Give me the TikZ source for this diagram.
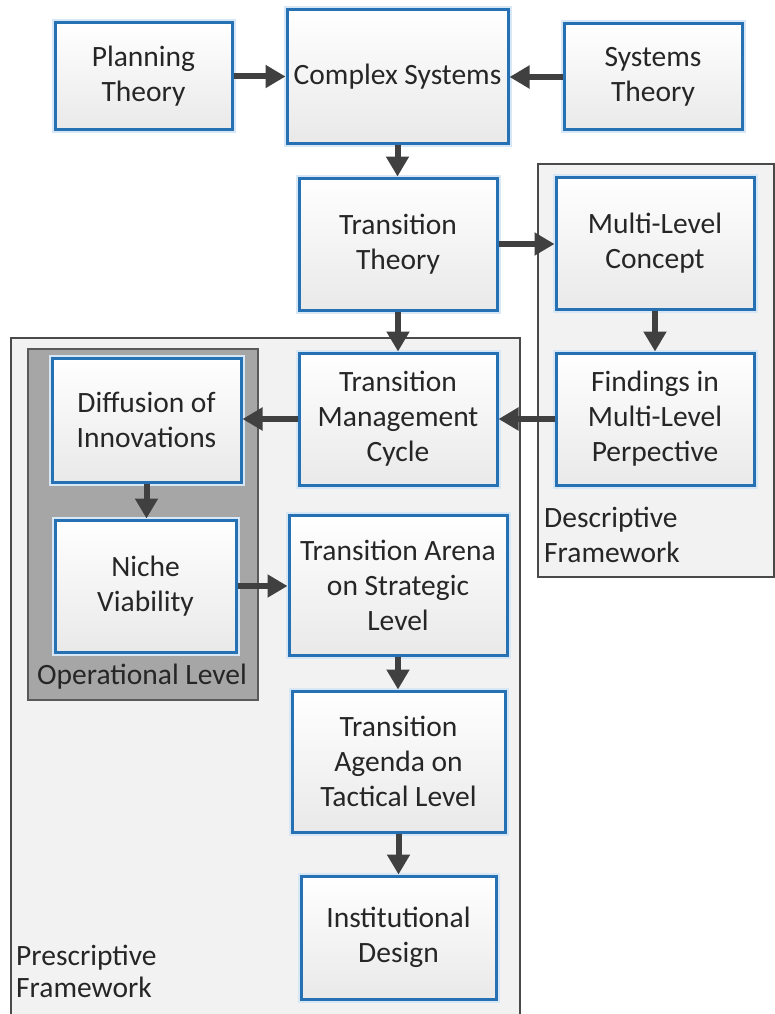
\documentclass[tikz,border=0pt]{standalone}
\usepackage{fontspec}
\setmainfont{Carlito}
\usetikzlibrary{arrows.meta}
\definecolor{boxblue}{HTML}{2670B4}
\definecolor{glow}{HTML}{D8E7F5}
\definecolor{boxgray}{HTML}{E9E9E9}
\definecolor{arrowgray}{HTML}{404040}
\definecolor{contfill}{HTML}{F2F2F2}
\definecolor{contborder}{HTML}{4A4A4A}
\definecolor{opfill}{HTML}{A6A6A6}
\definecolor{opborder}{HTML}{5A5A5A}
\definecolor{txt}{HTML}{262626}
\tikzset{
  box/.style={draw=boxblue, line width=3pt, top color=white, bottom color=boxgray,
    inner sep=0pt, align=center, text=txt, font=\fontsize{29.5}{35}\selectfont,
    preaction={draw=glow, line width=7pt}},
  container/.style={draw=contborder, line width=1.5pt, fill=contfill, inner sep=0pt},
  opcontainer/.style={draw=opborder, line width=2pt, fill=opfill, inner sep=0pt},
  lbl/.style={inner sep=0pt, align=left, text=txt, font=\fontsize{29.5}{35}\selectfont},
  arr/.style={line width=6pt, draw=arrowgray, -{Triangle[length=20pt,width=22pt]}}
}
\begin{document}
\begin{tikzpicture}[x=1pt,y=-1pt]
\useasboundingbox (0,0) rectangle (775,1014);
\fill[white] (0,0) rectangle (775,1014);
% containers
\node[container, minimum width=509pt, minimum height=677pt] (presc) at (265.5,676.5) {};
\node[container, minimum width=236pt, minimum height=413pt] (desc) at (656,370.5) {};
\node[opcontainer, minimum width=230pt, minimum height=351pt] (oper) at (143,524.5) {};
% container labels (anchor at the baseline of the last line)
\node[lbl, anchor=base west] (presclbl) at (16,997) {Prescriptive\\[-3pt]Framework};
\node[lbl, anchor=base west] (desclbl) at (544,562) {Descriptive\\Framework};
\node[lbl, anchor=base west] (operlbl) at (37,684) {Operational Level};
% boxes
\node[box, minimum width=177pt, minimum height=107pt] (PT) at (143.5,76.5) {Planning\\Theory};
\node[box, minimum width=221pt, minimum height=133pt] (CS) at (397.5,76.5) {Complex Systems};
\node[box, minimum width=178pt, minimum height=106pt] (ST) at (653,77) {Systems\\Theory};
\node[box, minimum width=198pt, minimum height=132pt] (TT) at (398,244) {Transition\\Theory};
\node[box, minimum width=198pt, minimum height=132pt] (MLC) at (655,243) {Multi-Level\\Concept};
\node[box, minimum width=189pt, minimum height=124pt] (DI) at (146.5,420) {Diffusion of\\Innovations};
\node[box, minimum width=181pt, minimum height=132pt] (NV) at (145.5,586) {Niche\\Viability};
\node[box, minimum width=198pt, minimum height=132pt] (TMC) at (398,419) {Transition\\Management\\Cycle};
\node[box, minimum width=198pt, minimum height=132pt] (FMLP) at (655,419) {Findings in\\Multi-Level\\Perpective};
\node[box, minimum width=218pt, minimum height=140pt] (AR) at (398,585) {Transition Arena\\on Strategic\\Level};
\node[box, minimum width=213pt, minimum height=141pt] (AG) at (398.5,761.5) {Transition\\Agenda on\\Tactical Level};
\node[box, minimum width=195pt, minimum height=123pt] (ID) at (398.5,937.5) {Institutional\\Design};
% arrows
\draw[arr] (PT.east) -- (PT.east -| CS.west);
\draw[arr] (ST.west) -- (ST.west -| CS.east);
\draw[arr] (CS.south) -- (CS.south |- TT.north);
\draw[arr] (TT.east) -- (TT.east -| MLC.west);
\draw[arr] (TT.south) -- (TT.south |- TMC.north);
\draw[arr] (MLC.south) -- (MLC.south |- FMLP.north);
\draw[arr] (FMLP.west) -- (FMLP.west -| TMC.east);
\draw[arr] (TMC.west) -- (TMC.west -| DI.east);
\draw[arr] (DI.south) -- (DI.south |- NV.north);
\draw[arr] (NV.east) -- (NV.east -| AR.west);
\draw[arr] (AR.south) -- (AR.south |- AG.north);
\draw[arr] (AG.south) -- (AG.south |- ID.north);
\end{tikzpicture}
\end{document}
